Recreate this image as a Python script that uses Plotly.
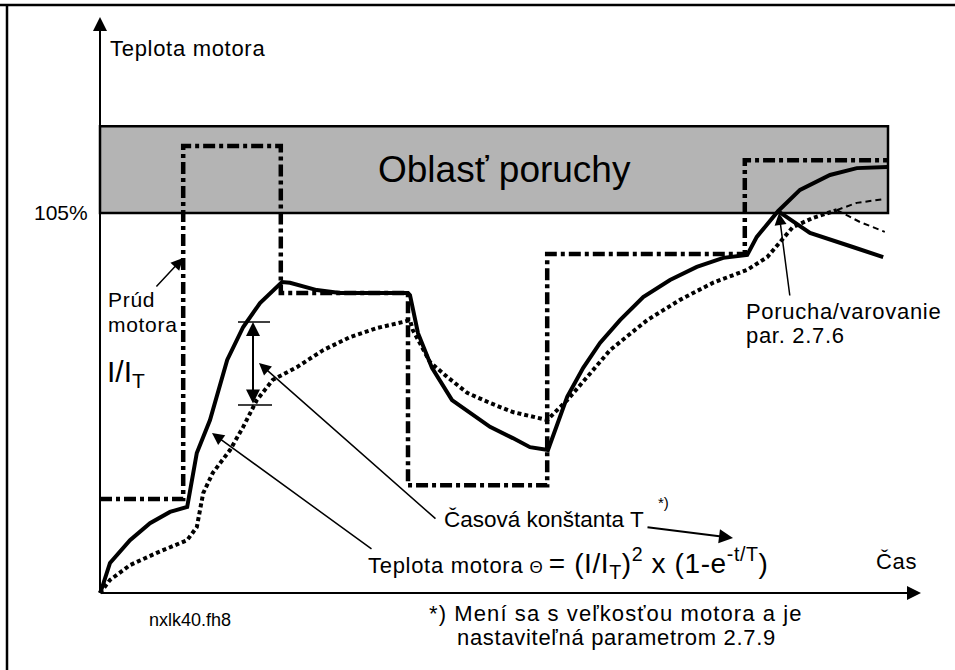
import plotly.graph_objects as go

# ---------------- data (time in arbitrary units, temperature / current in %) ----------------
time_current = [0, 10.4, 10.4, 22.6, 22.6, 38.5, 38.5, 55.9, 55.9, 80.6, 80.6, 98.5]
current_level = [26.0, 26.0, 123.5, 123.5, 82.9, 82.9, 29.8, 29.8, 93.7, 93.7, 119.6, 119.6]

time_temp = [0, 0.25, 1.25, 3.75, 6.25, 8.75, 10.9, 12.1, 13.75, 15.9,
             17.9, 20.0, 22.75, 23.75, 27.1, 30.0, 38.5, 38.75, 39.75, 41.5,
             44.0, 46.25, 48.75, 51.6, 53.75, 56.0, 58.4, 60.4, 62.5, 65.0,
             67.9, 71.25, 74.6, 77.9, 80.9, 82.1, 84.75, 87.5, 91.25, 94.6, 98.4]
motor_temp = [0, 1.4, 8.3, 14.6, 19.3, 22.4, 23.8, 38.7, 47.8, 64.4,
              73.5, 80.1, 85.9, 85.7, 83.7, 82.9, 82.9, 82.3, 71.8, 62.2,
              53.3, 49.7, 45.9, 42.8, 40.3, 39.5, 54.2, 62.2, 69.1, 75.4,
              81.8, 86.5, 90.1, 92.6, 93.4, 98.4, 105.5, 111.4, 115.5, 117.4, 117.7]

time_after_trip = [84.75, 88.75, 94.1, 97.9]
temp_after_trip = [105.5, 99.5, 95.6, 92.8]

time_steady = [0, 1.25, 3.75, 7.1, 10.9, 12.1, 12.9, 14.1, 16.25, 17.9,
               19.6, 21.6, 24.6, 27.9, 31.25, 34.6, 37.9, 38.75, 39.1, 41.25,
               43.4, 45.9, 48.75, 51.6, 55.9, 58.4, 60.9, 63.75, 68.4, 72.5,
               76.6, 80.9, 83.4, 86.6, 89.1, 92.1]
steady_temp = [0, 3.6, 7.7, 11.1, 14.6, 18.2, 27.6, 33.2, 39.5, 45.9,
               53.3, 58.9, 62.4, 67.1, 70.7, 73.2, 74.9, 75.4, 72.7, 63.8,
               59.7, 55.3, 52.5, 50.0, 47.8, 53.3, 59.7, 67.1, 75.4, 81.0,
               85.7, 89.3, 92.8, 101.1, 103.6, 105.8]

time_branch_up = [92.1, 94.6, 98.1]
steady_up = [105.8, 107.8, 108.9]
time_branch_down = [92.1, 95.0, 98.1]
steady_down = [105.8, 102.5, 99.8]

fault_low = 105.0
fault_high = 129.0
fault_end = 98.5
tick_label = "105%"

# ---------------- pixel helpers for layout (positions only) ----------------
W, H = 955, 670
OX, OY = 100, 593          # pixel position of origin
SX = 8.0                   # px per time unit
SY = 380.0 / 105.0         # px per percent


def X(px):
    return (px - OX) / SX


def Y(py):
    return (OY - py) / SY


FONT = "Liberation Sans, Arial, sans-serif"
SP = "<span style='letter-spacing:0.7px'>{}</span>"

fig = go.Figure()

# current step (dash-dot)
fig.add_trace(go.Scatter(x=time_current, y=current_level, mode="lines",
                         line=dict(color="black", width=4.5, dash="12px,4px,4px,4px"),
                         hoverinfo="skip"))
# steady-state temperature (dotted)
fig.add_trace(go.Scatter(x=time_steady, y=steady_temp, mode="lines",
                         line=dict(color="black", width=4, dash="4px,3px"),
                         hoverinfo="skip"))
fig.add_trace(go.Scatter(x=time_branch_up, y=steady_up, mode="lines",
                         line=dict(color="black", width=2, dash="6px,4px"),
                         hoverinfo="skip"))
fig.add_trace(go.Scatter(x=time_branch_down, y=steady_down, mode="lines",
                         line=dict(color="black", width=2, dash="6px,4px"),
                         hoverinfo="skip"))
# motor temperature (solid)
fig.add_trace(go.Scatter(x=time_temp, y=motor_temp, mode="lines",
                         line=dict(color="black", width=4),
                         hoverinfo="skip"))
fig.add_trace(go.Scatter(x=time_after_trip, y=temp_after_trip, mode="lines",
                         line=dict(color="black", width=4),
                         hoverinfo="skip"))

shapes = []
# fault area band
shapes.append(dict(type="rect", xref="x", yref="y", x0=0, x1=fault_end,
                   y0=fault_low, y1=fault_high, fillcolor="#b4b4b4",
                   line=dict(color="black", width=2.5), layer="below"))
# frame (top & left)
shapes.append(dict(type="line", xref="paper", yref="paper", x0=0, x1=1,
                   y0=1 - 5 / H, y1=1 - 5 / H, line=dict(color="black", width=2.5)))
shapes.append(dict(type="line", xref="paper", yref="paper", x0=7 / W, x1=7 / W,
                   y0=0, y1=1 - 5 / H, line=dict(color="black", width=2.5)))
# measurement ticks
shapes.append(dict(type="line", xref="x", yref="y", x0=X(238), x1=X(270),
                   y0=Y(322), y1=Y(322), line=dict(color="black", width=1.5)))
shapes.append(dict(type="line", xref="x", yref="y", x0=X(238), x1=X(272),
                   y0=Y(405), y1=Y(405), line=dict(color="black", width=1.5)))

ann = []


def arrow(tip, tail, width=1.5, size=1.6, head=2, side="end"):
    ann.append(dict(x=X(tip[0]), y=Y(tip[1]), ax=X(tail[0]), ay=Y(tail[1]),
                    xref="x", yref="y", axref="x", ayref="y", text="",
                    showarrow=True, arrowhead=head, arrowsize=size,
                    arrowwidth=width, arrowcolor="black", standoff=0,
                    startstandoff=0, arrowside=side, startarrowhead=head,
                    startarrowsize=size))


def label(px, py, text, size=22, anchor="left", spaced=True):
    ann.append(dict(x=X(px), y=Y(py), xref="x", yref="y",
                    text=SP.format(text) if spaced else text,
                    showarrow=False, xanchor=anchor, yanchor="middle",
                    font=dict(family=FONT, size=size, color="black")))


# axes
arrow((100, 17), (100, 593), width=2, size=1.4)
arrow((921, 593), (100, 593), width=2, size=1.4)

# pointer arrows
arrow((183, 258), (155, 288))
arrow((212, 433), (373, 550))
arrow((259, 363), (437, 520))
arrow((733, 538), (646, 527), width=2, size=1.4)
arrow((779, 213), (790, 297))
arrow((253, 322), (253, 405), width=2, size=1.4, side="end+start")

# texts
label(108, 48, "Teplota motora")
label(90, 212, tick_label, size=21, anchor="right", spaced=False)
label(504, 169, "Oblasť poruchy", size=37, anchor="center", spaced=False)
label(106, 299, "Prúd", size=21)
label(106, 324, "motora", size=21)
label(105, 373, "I/I<sub>T</sub>", size=30, spaced=False)
label(442, 519, "Časová konštanta T", spaced=False, size=22.5)
label(656, 502, "*)", size=15, spaced=False)
label(366, 563, "<span style='letter-spacing:0.7px'>Teplota motora</span> "
                "<span style='font-size:17px'>Θ</span> "
                "<span style='font-size:28px;letter-spacing:0.6px'>= (I/I<sub>T</sub>)<sup>2</sup> x (1-e<sup>-t/T</sup>)</span>",
      spaced=False)
label(874, 561, "Čas")
label(427, 613, "<span style='letter-spacing:1.1px'>*) Mení sa s veľkosťou motora a je</span>",
      spaced=False)
label(455, 637, "nastaviteľná parametrom 2.7.9")
label(147, 620, "nxlk40.fh8", size=18, spaced=False)
label(744, 311, "Porucha/varovanie")
label(744, 335, "par. 2.7.6")

fig.update_layout(
    width=W, height=H, autosize=False,
    margin=dict(l=0, r=0, t=0, b=0, pad=0),
    paper_bgcolor="white", plot_bgcolor="white",
    showlegend=False,
    xaxis=dict(visible=False, range=[X(0), X(W)], fixedrange=True),
    yaxis=dict(visible=False, range=[Y(H), Y(0)], fixedrange=True),
    shapes=shapes, annotations=ann,
    font=dict(family=FONT, color="black"),
)

fig.write_html("out.html",
               config={"displayModeBar": False, "staticPlot": True},
               post_script="document.body.style.margin='0';"
                           "document.body.style.overflow='hidden';")
